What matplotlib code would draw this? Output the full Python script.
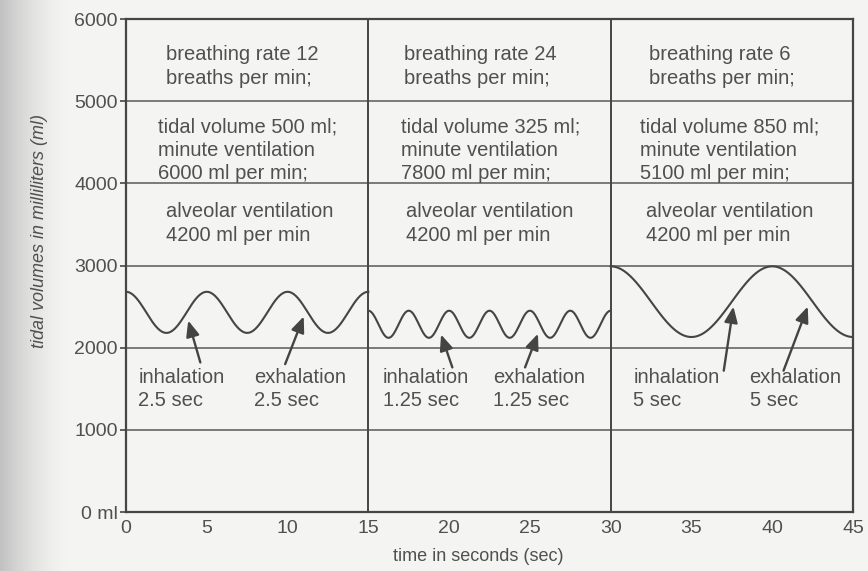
import numpy as np
import matplotlib
matplotlib.use("Agg")
import matplotlib.pyplot as plt
from matplotlib.colors import to_rgb

# values
column_starts = [0, 15, 30]
breathing_rates = [12, 24, 6]
tidal_volumes = [500, 325, 850]
minute_ventilations = [6000, 7800, 5100]
alveolar_ventilations = [4200, 4200, 4200]
phase_seconds = ["2.5", "1.25", "5"]

# peaks and troughs of the volume trace in each column
seg1_t = [0, 2.5, 5, 7.5, 10, 12.5, 15]
seg1_v = [2680, 2180, 2680, 2180, 2680, 2180, 2680]
seg2_t = [15, 16.25, 17.5, 18.75, 20, 21.25, 22.5, 23.75, 25, 26.25, 27.5, 28.75, 30]
seg2_v = [2450, 2120, 2450, 2120, 2450, 2120, 2450, 2120, 2450, 2120, 2450, 2120, 2450]
seg3_t = [30, 35, 40, 45]
seg3_v = [2990, 2130, 2990, 2130]

# arrow (tail -> head) per column: inhalation, exhalation
inh_arrows = [((4.6, 1820), (3.85, 2330)), ((20.2, 1760), (19.5, 2160)), ((37.0, 1720), (37.6, 2500))]
exh_arrows = [((9.85, 1800), (11.0, 2380)), ((24.7, 1760), (25.5, 2170)), ((40.7, 1720), (42.2, 2500))]

TEXT = "#505050"
LINE = "#454545"
BG = "#f4f4f2"

plt.rcParams["font.family"] = ["Liberation Sans", "DejaVu Sans"]

fig = plt.figure(figsize=(8.68, 5.71), dpi=100, facecolor=BG)

# scan shadow along the left edge, fading into the page colour
shade = fig.add_axes([0, 0, 0.08, 1], zorder=-5)
w = np.linspace(1, 0, 70) ** 1.6
bg_rgb = np.array(to_rgb(BG))
dark = np.array([0.76, 0.76, 0.76])
img = (w[:, None] * dark + (1 - w[:, None]) * bg_rgb)[None, :, :]
shade.imshow(img, aspect="auto", extent=[0, 1, 0, 1])
shade.axis("off")

ax = fig.add_axes([0.1452, 0.1033, 0.8375, 0.8634])
ax.set_facecolor(BG)


def half_cosine(ts, vs):
    xs, ys = [], []
    for i in range(len(ts) - 1):
        s = np.linspace(0, 1, 40)
        xs.append(ts[i] + (ts[i + 1] - ts[i]) * s)
        ys.append(vs[i] + (vs[i + 1] - vs[i]) * (1 - np.cos(np.pi * s)) / 2)
    return np.concatenate(xs), np.concatenate(ys)


for ts, vs in [(seg1_t, seg1_v), (seg2_t, seg2_v), (seg3_t, seg3_v)]:
    x, y = half_cosine(ts, vs)
    ax.plot(x, y, color=LINE, lw=1.5, zorder=3)

# horizontal grid and column dividers
for yv in [1000, 2000, 3000, 4000, 5000]:
    ax.axhline(yv, color="#5a5a5a", lw=1.1, zorder=1)
for xv in [15, 30]:
    ax.axvline(xv, color=LINE, lw=1.4, zorder=2)

# cell texts
row1_dx = [2.5, 2.2, 2.4]
row2_dx = [2.0, 2.0, 1.8]
row3_dx = [2.5, 2.3, 2.2]
fs = 14.5
ls = 1.3
for i, x0 in enumerate(column_starts):
    ax.text(x0 + row1_dx[i], 5420,
            f"breathing rate {breathing_rates[i]}\nbreaths per min;",
            ha="left", va="center", fontsize=fs, color=TEXT, linespacing=ls)
    ax.text(x0 + row2_dx[i], 4405,
            f"tidal volume {tidal_volumes[i]} ml;\nminute ventilation\n"
            f"{minute_ventilations[i]} ml per min;",
            ha="left", va="center", fontsize=fs, color=TEXT, linespacing=ls)
    ax.text(x0 + row3_dx[i], 3510,
            f"alveolar ventilation\n{alveolar_ventilations[i]} ml per min",
            ha="left", va="center", fontsize=fs, color=TEXT, linespacing=ls)

# phase labels and arrows
inh_dx = [0.75, 0.9, 1.4]
exh_dx = [7.9, 7.7, 8.6]
for i, x0 in enumerate(column_starts):
    ax.text(x0 + inh_dx[i], 1500, f"inhalation\n{phase_seconds[i]} sec",
            ha="left", va="center", fontsize=fs, color=TEXT, linespacing=ls)
    ax.text(x0 + exh_dx[i], 1500, f"exhalation\n{phase_seconds[i]} sec",
            ha="left", va="center", fontsize=fs, color=TEXT, linespacing=ls)
    for tail, head in (inh_arrows[i], exh_arrows[i]):
        ax.annotate("", xy=head, xytext=tail,
                    arrowprops=dict(arrowstyle="-|>,head_length=0.95,head_width=0.4",
                                    color="#444444", lw=1.7, shrinkA=0, shrinkB=0),
                    zorder=4)

ax.set_xlim(0, 45)
ax.set_ylim(0, 6000)
ax.set_xticks([0, 5, 10, 15, 20, 25, 30, 35, 40, 45])
ax.set_yticks([0, 1000, 2000, 3000, 4000, 5000, 6000])
ax.set_yticklabels(["0 ml", "1000", "2000", "3000", "4000", "5000", "6000"])
ax.tick_params(axis="y", length=4, width=1.2, color=LINE, pad=2,
               labelsize=14, labelcolor=TEXT)
ax.tick_params(axis="x", length=0, pad=6, labelsize=14, labelcolor=TEXT)
for sp in ax.spines.values():
    sp.set_color(LINE)
    sp.set_linewidth(1.6)

ax.set_xlabel("time in seconds (sec)", fontsize=13, color=TEXT)
ax.xaxis.set_label_coords(0.485, -0.072)
ax.set_ylabel("tidal volumes in milliliters (ml)", fontsize=13, color=TEXT,
              style="italic")
ax.yaxis.set_label_coords(-0.108, 0.57)

fig.savefig("out.png", dpi=100, facecolor=BG)
